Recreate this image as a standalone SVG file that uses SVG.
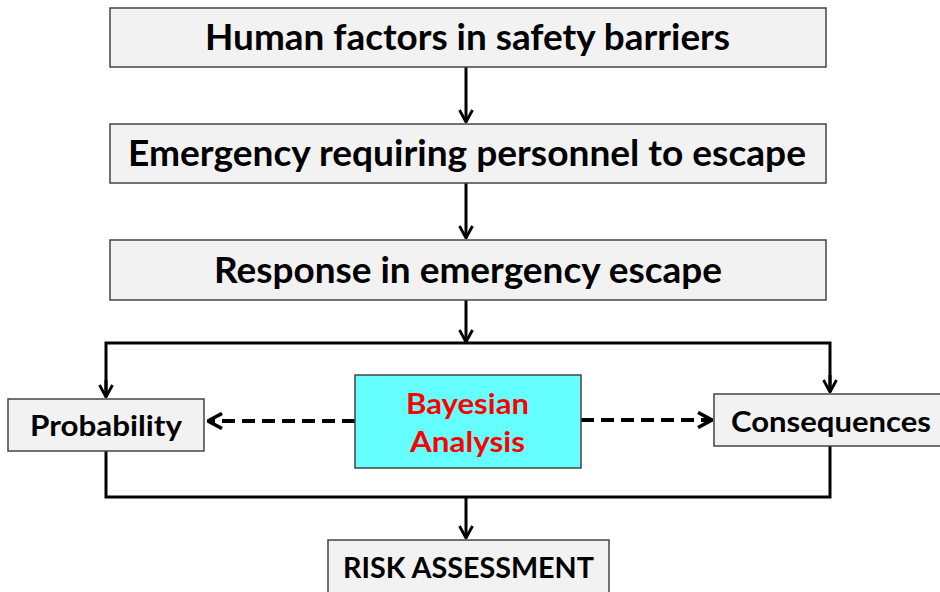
<svg xmlns="http://www.w3.org/2000/svg" width="940" height="592" viewBox="0 0 940 592">
<defs>
<marker id="arr" viewBox="0 0 14 16" refX="13" refY="8" markerWidth="14" markerHeight="16" markerUnits="userSpaceOnUse" orient="auto">
<path d="M1,1.5 L13,8 L1,14.5" fill="none" stroke="#000" stroke-width="2.8"/>
</marker>
<marker id="arr2" viewBox="0 0 16 18" refX="15" refY="9" markerWidth="16" markerHeight="18" markerUnits="userSpaceOnUse" orient="auto">
<path d="M1,1.5 L15,9 L1,16.5" fill="none" stroke="#000" stroke-width="3.6"/>
</marker>
</defs>
<style>
.box{fill:#f2f2f2;stroke:#444;stroke-width:1.5}
.t{font-family:Lato,"Open Sans","Liberation Sans",sans-serif;font-weight:bold;fill:#000;text-anchor:middle}
.big{font-size:36px}
.sm{font-size:29px}
.red{fill:#ff0000}
.ln{fill:none;stroke:#000;stroke-width:3}
.dash{fill:none;stroke:#000;stroke-width:4;stroke-dasharray:13,7}
</style>
<rect width="940" height="592" fill="#fff"/>
<g id="connectors">
<line class="ln" x1="466" y1="67" x2="466" y2="122" marker-end="url(#arr)"/>
<line class="ln" x1="466" y1="183" x2="466" y2="238" marker-end="url(#arr)"/>
<line class="ln" x1="466" y1="300" x2="466" y2="342" marker-end="url(#arr)"/>
<polyline class="ln" points="106,397 106,343 830,343 830,392"/>
<line class="ln" x1="106" y1="380" x2="106" y2="397" marker-end="url(#arr)"/>
<line class="ln" x1="830" y1="375" x2="830" y2="392" marker-end="url(#arr)"/>
<polyline class="ln" points="106,451 106,497 830,497 830,446"/>
<line class="ln" x1="466" y1="497" x2="466" y2="538" marker-end="url(#arr)"/>
<line class="dash" x1="355" y1="421" x2="208" y2="421" marker-end="url(#arr2)"/>
<line class="dash" x1="581" y1="420" x2="712" y2="420" marker-end="url(#arr2)"/>
</g>
<g id="n1"><rect class="box" x="110" y="8" width="716" height="59"/><text class="t big" x="467.5" y="50" textLength="525" lengthAdjust="spacingAndGlyphs">Human factors in safety barriers</text></g>
<g id="n2"><rect class="box" x="110" y="124" width="716" height="59"/><text class="t big" x="467" y="166" textLength="678" lengthAdjust="spacingAndGlyphs">Emergency requiring personnel to escape</text></g>
<g id="n3"><rect class="box" x="110" y="240" width="716" height="60"/><text class="t big" x="468" y="283" textLength="508" lengthAdjust="spacingAndGlyphs">Response in emergency escape</text></g>
<g id="probability"><rect class="box" x="8" y="399" width="196" height="52"/><text class="t sm" x="106" y="436" textLength="152" lengthAdjust="spacingAndGlyphs">Probability</text></g>
<g id="bayesian"><rect x="355" y="375" width="226" height="93" fill="#66ffff" stroke="#444" stroke-width="1.5"/><text class="t sm red" x="467.5" y="414" textLength="123" lengthAdjust="spacingAndGlyphs">Bayesian</text><text class="t sm red" x="467.5" y="452" textLength="115" lengthAdjust="spacingAndGlyphs">Analysis</text></g>
<g id="consequences"><rect class="box" x="714" y="394" width="230" height="52"/><text class="t sm" x="831" y="432" textLength="200" lengthAdjust="spacingAndGlyphs">Consequences</text></g>
<g id="risk"><rect class="box" x="328" y="540" width="281" height="56"/><text class="t sm" x="468.5" y="578" textLength="251" lengthAdjust="spacingAndGlyphs">RISK ASSESSMENT</text></g>
</svg>
